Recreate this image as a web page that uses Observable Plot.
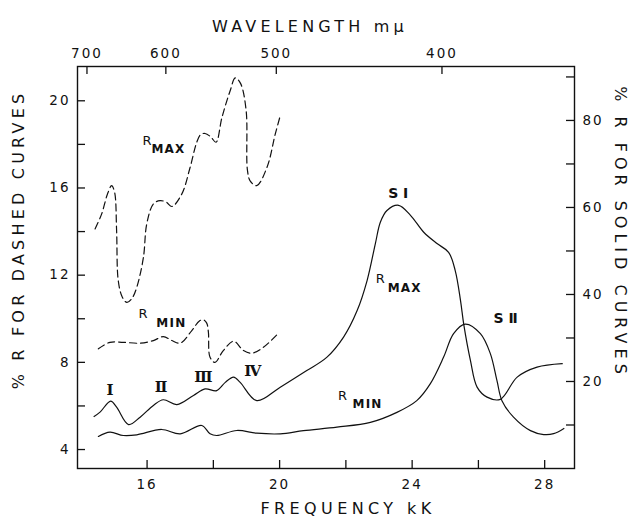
<!DOCTYPE html>
<html>
<head>
<meta charset="utf-8">
<script src="https://cdn.jsdelivr.net/npm/d3@7"></script>
<script src="https://cdn.jsdelivr.net/npm/@observablehq/plot@0.6"></script>
<style>
  html, body { margin: 0; padding: 0; background: #fff; }
  #chart svg { display: block; }
</style>
</head>
<body>
<div id="chart"></div>
<script>
// ---- tick values ----
const freqTicks = [16, 18, 20, 22, 24, 26, 28];
const freqLabels = [16, 20, 24, 28];
const waveTicks = [700, 600, 500, 400];
const dashTicks = [4, 6, 8, 10, 12, 14, 16, 18, 20];
const dashLabels = [4, 8, 12, 16, 20];
const solidTicks = [10, 20, 30, 40, 50, 60, 70, 80, 90];
const solidLabels = [20, 40, 60, 80];

// ---- dashed curves (left axis, %R) ----
const dashMaxFreq = [14.43, 14.63, 14.80, 14.93, 15.02, 15.08, 15.13, 15.25, 15.39, 15.55, 15.69, 15.89, 15.99, 16.19, 16.39, 16.58, 16.75, 17.05, 17.30, 17.50, 17.62, 17.75, 17.92, 18.08, 18.26, 18.51, 18.66, 18.82, 18.99, 19.03, 19.12, 19.31, 19.62, 19.87, 20.02];
const dashMaxVal  = [14.12, 14.81, 15.70, 16.11, 15.80, 14.05, 11.75, 11.00, 10.75, 10.95, 11.45, 12.82, 14.35, 15.27, 15.42, 15.35, 15.15, 15.73, 16.95, 18.10, 18.45, 18.50, 18.35, 18.10, 19.24, 20.47, 21.05, 20.80, 19.55, 16.80, 16.30, 16.11, 16.95, 18.48, 19.32];

const dashMinFreq = [14.53, 14.88, 15.28, 15.79, 16.19, 16.49, 16.75, 17.00, 17.35, 17.58, 17.70, 17.80, 17.85, 17.90, 18.05, 18.30, 18.61, 18.91, 19.16, 19.51, 19.97];
const dashMinVal  = [8.62, 8.92, 8.92, 8.88, 9.00, 9.18, 9.00, 8.88, 9.46, 9.90, 9.95, 9.80, 9.40, 8.23, 8.00, 8.54, 8.97, 8.54, 8.42, 8.69, 9.35];

// ---- solid curves (right axis, %R) ----
const solidMaxFreq = [14.40, 14.58, 14.90, 15.08, 15.44, 15.79, 16.19, 16.49, 16.90, 17.40, 17.75, 18.10, 18.36, 18.61, 18.81, 19.31, 20.02, 20.82, 21.43, 21.93, 22.34, 22.64, 22.89, 23.04, 23.24, 23.59, 23.95, 24.35, 24.75, 25.10, 25.30, 25.46, 25.56, 25.76, 25.96, 26.26, 26.66, 27.17, 27.77, 28.53];
const solidMaxVal  = [11.95, 12.95, 15.48, 14.10, 10.10, 11.80, 14.50, 15.80, 14.70, 16.80, 18.30, 17.90, 19.80, 21.00, 19.80, 15.60, 18.70, 22.50, 25.60, 30.20, 36.30, 43.20, 51.70, 56.60, 59.30, 60.50, 58.20, 54.30, 51.70, 49.70, 45.50, 38.60, 33.00, 24.80, 18.70, 16.40, 15.90, 21.00, 23.30, 24.10];

const solidMinFreq = [14.53, 14.88, 15.28, 15.69, 16.44, 17.00, 17.65, 17.90, 18.10, 18.71, 19.31, 20.02, 20.72, 21.73, 22.74, 23.54, 24.14, 24.55, 24.95, 25.25, 25.60, 26.06, 26.36, 26.56, 26.71, 27.06, 27.57, 27.97, 28.27, 28.58];
const solidMinVal  = [7.36, 8.35, 7.59, 7.74, 8.97, 7.97, 9.89, 7.97, 7.59, 8.74, 8.12, 7.97, 8.70, 9.50, 10.60, 12.90, 15.60, 19.50, 25.60, 31.00, 33.20, 31.00, 26.40, 20.20, 15.60, 11.80, 8.70, 7.80, 8.00, 9.20];

// ---- annotation labels (positions in kK / solid-axis %R) ----
const bigR = [
  {f: 16.00, v: 75.4}, {f: 15.88, v: 35.6}, {f: 23.04, v: 43.7}, {f: 21.90, v: 16.8}
];
const subs = [
  {f: 16.13, v: 73.4, t: "MAX"}, {f: 16.28, v: 33.4, t: "MIN"},
  {f: 23.26, v: 41.5, t: "MAX"}, {f: 22.20, v: 14.7, t: "MIN"}
];
const numerals = [
  {f: 14.88, v: 18.0, t: "Ⅰ"}, {f: 16.42, v: 18.6, t: "Ⅱ"},
  {f: 17.70, v: 21.0, t: "Ⅲ"}, {f: 19.19, v: 22.3, t: "Ⅳ"}
];
const bands = [
  {f: 23.58, v: 63.2, t: "S Ⅰ"}, {f: 26.82, v: 34.4, t: "S Ⅱ"}
];

// left-axis (dashed) units -> shared y scale (solid units)
const toSolid = L => (L - 3.13) * 5.01;
// wavelength (mμ) -> frequency (kK), with the small offset of the drawn top scale
const waveToFreq = w => 10000 / w - 0.1;
const zip = (xs, ys, conv = v => v) => xs.map((x, i) => ({f: x, v: conv(ys[i])}));

const dashMax = zip(dashMaxFreq, dashMaxVal, toSolid);
const dashMin = zip(dashMinFreq, dashMinVal, toSolid);
const solidMax = zip(solidMaxFreq, solidMaxVal);
const solidMin = zip(solidMinFreq, solidMinVal);

const ink = "#111";
const H = 522 - 66 - 54;
const W = 638 - 77 - 64;
const tick = 8;

const plot = Plot.plot({
  width: 638,
  height: 522,
  marginLeft: 77,
  marginRight: 64,
  marginTop: 66,
  marginBottom: 54,
  x: {domain: [13.9, 28.9]},
  y: {domain: [0, 92.4]},
  style: {fontFamily: "'DejaVu Sans', sans-serif", color: ink, background: "#fff"},
  marks: [
    Plot.frame({stroke: ink, strokeWidth: 1.4}),
    // inward ticks
    Plot.tickX(freqTicks, {x: d => d, insetTop: H - tick, stroke: ink, strokeWidth: 1.3}),
    Plot.tickX(waveTicks, {x: d => waveToFreq(d), insetBottom: H - tick, stroke: ink, strokeWidth: 1.3}),
    Plot.tickY(dashTicks, {y: d => toSolid(d), insetRight: W - tick, stroke: ink, strokeWidth: 1.3}),
    Plot.tickY(solidTicks, {y: d => d, insetLeft: W - tick, stroke: ink, strokeWidth: 1.3}),
    // axes (labels only)
    Plot.axisX(freqTicks, {anchor: "bottom", tickSize: 0, tickPadding: 11, fontSize: 13.5,
      tickFormat: d => freqLabels.includes(d) ? String(d) : "", label: null}),
    Plot.axisX(waveTicks.map(waveToFreq), {anchor: "top", tickSize: 0, tickPadding: 9, fontSize: 13.5,
      tickFormat: (d, i) => String(waveTicks[i]), label: null}),
    Plot.axisY(dashTicks.map(toSolid), {anchor: "left", tickSize: 0, tickPadding: 7, fontSize: 13.5,
      tickFormat: d => { const L = Math.round(d / 5.01 + 3.13); return dashLabels.includes(L) ? String(L) : ""; }, label: null}),
    Plot.axisY(solidTicks, {anchor: "right", tickSize: 0, tickPadding: 8, fontSize: 13.5,
      tickFormat: d => solidLabels.includes(d) ? String(d) : "", label: null}),
    // titles
    Plot.text(["WAVELENGTH mμ"], {text: d => d, frameAnchor: "top", textAnchor: "middle", dx: -16, dy: -46, fontSize: 16}),
    Plot.text(["FREQUENCY kK"], {text: d => d, frameAnchor: "bottom", textAnchor: "middle", dx: 22, dy: 45, fontSize: 16}),
    Plot.text(["% R FOR DASHED CURVES"], {text: d => d, frameAnchor: "left", textAnchor: "middle", dx: -59, dy: -28, rotate: -90, fontSize: 16}),
    Plot.text(["% R FOR SOLID CURVES"], {text: d => d, frameAnchor: "right", textAnchor: "middle", dx: 46, dy: -35, rotate: 90, fontSize: 16}),
    // curves
    Plot.line(dashMax, {x: "f", y: "v", curve: "catmull-rom", stroke: ink, strokeWidth: 1.2, strokeDasharray: "7,4"}),
    Plot.line(dashMin, {x: "f", y: "v", curve: "catmull-rom", stroke: ink, strokeWidth: 1.2, strokeDasharray: "7,4"}),
    Plot.line(solidMax, {x: "f", y: "v", curve: "catmull-rom", stroke: ink, strokeWidth: 1.2}),
    Plot.line(solidMin, {x: "f", y: "v", curve: "catmull-rom", stroke: ink, strokeWidth: 1.2}),
    // annotations
    Plot.text(bigR, {x: "f", y: "v", text: () => "R", fontSize: 13, fill: ink}),
    Plot.text(subs, {x: "f", y: "v", text: "t", textAnchor: "start", fontSize: 12, fontWeight: "bold", fill: ink}),
    Plot.text(numerals, {x: "f", y: "v", text: "t", fontSize: 15, fontWeight: "bold", fontFamily: "'DejaVu Serif', serif", fill: ink}),
    Plot.text(bands, {x: "f", y: "v", text: "t", fontSize: 14, fontWeight: "bold", fill: ink})
  ]
});

// letter spacing to imitate the drafting lettering
const spacing = t => {
  if (/DASHED/.test(t)) return 4.2;
  if (/SOLID/.test(t)) return 5;
  if (/WAVELENGTH/.test(t)) return 4.2;
  if (/FREQUENCY/.test(t)) return 4.4;
  if (/^\d+$/.test(t)) return 2;
  if (/MAX|MIN/.test(t)) return 1.2;
  return null;
};
d3.select(plot).selectAll("text").each(function() {
  const s = spacing(this.textContent);
  if (s != null) {
    this.setAttribute("letter-spacing", s);
    d3.select(this).selectAll("tspan").attr("letter-spacing", s);
  }
});

document.getElementById("chart").appendChild(plot);
</script>
</body>
</html>
